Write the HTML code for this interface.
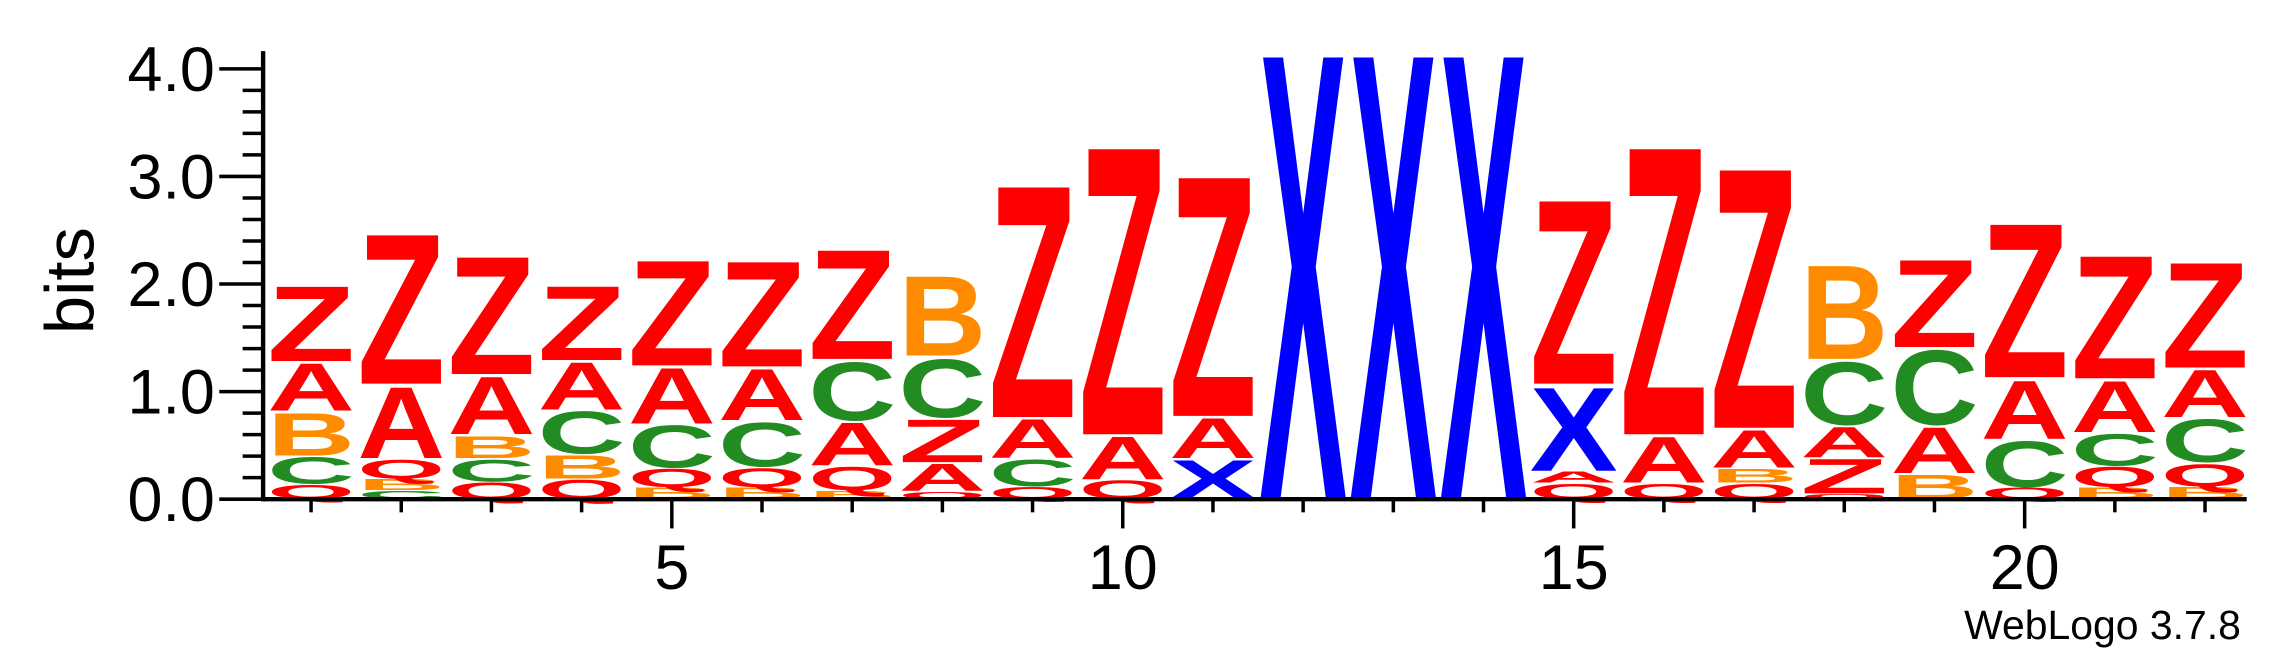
<!DOCTYPE html>
<html><head><meta charset="utf-8"><style>
html,body{margin:0;padding:0;background:#fff;}
svg{display:block;}
text{font-family:"Liberation Sans",Arial,sans-serif;}
</style></head><body>
<svg id="logo" width="2292" height="667" viewBox="0 0 1568 456.3" xmlns="http://www.w3.org/2000/svg">
<g id="marks"></g>
<g id="axes"></g>
<text x="0" y="0" font-size="47" transform="translate(64,192) rotate(-90)" text-anchor="middle">bits</text>
<text x="1533" y="437" font-size="28" text-anchor="end">WebLogo 3.7.8</text>
</svg>
<script>
const positions = [1,2,3,4,5,6,7,8,9,10,11,12,13,14,15,16,17,18,19,20,21,22];
const stackLetters = [
 ["Q","C","B","A","Z"],["C","B","Q","A","Z"],["Q","C","B","A","Z"],["Q","B","C","A","Z"],
 ["B","Q","C","A","Z"],["B","Q","C","A","Z"],["B","Q","A","C","Z"],["Q","A","Z","C","B"],
 ["Q","C","A","Z"],["Q","A","Z"],["X","A","Z"],["X"],["X"],["X"],
 ["Q","A","X","Z"],["Q","A","Z"],["Q","B","A","Z"],["Q","Z","A","C","B"],
 ["B","A","C","Z"],["Q","C","A","Z"],["B","Q","C","A","Z"],["B","Q","C","A","Z"]
];
const stackBits = [
 [0.14,0.26,0.42,0.46,0.73],[0.08,0.11,0.19,0.69,1.45],[0.16,0.22,0.22,0.56,1.14],[0.19,0.23,0.41,0.46,0.72],
 [0.11,0.18,0.41,0.54,1.02],[0.11,0.19,0.43,0.50,1.02],[0.08,0.23,0.42,0.57,1.06],[0.07,0.27,0.42,0.57,0.77],
 [0.12,0.26,0.38,2.24],[0.18,0.42,2.78],[0.38,0.39,2.32],[4.3],[4.3],[4.3],
 [0.15,0.11,0.81,1.78],[0.15,0.45,2.78],[0.15,0.14,0.37,2.51],[0.05,0.34,0.30,0.61,0.91],
 [0.24,0.45,0.72,0.85],[0.11,0.45,0.57,1.49],[0.11,0.20,0.31,0.50,1.19],[0.12,0.22,0.42,0.46,1.02]
];
const yTicks = [0,1,2,3,4];
const yTickLabels = ["0.0","1.0","2.0","3.0","4.0"];
const xTickLabels = [5,10,15,20];
const colors = {Z:"#ff0000",A:"#ff0000",Q:"#ff0000",B:"#ff8c00",C:"#228b22",X:"#0000ff"};

const NS="http://www.w3.org/2000/svg";
const base=341.5, bitPx=73.6, x0=212.8, dx=61.7;
const xs = p => x0+(p-1)*dx;
const ys = b => base-b*bitPx;
function mk(tag,attrs,parent){const e=document.createElementNS(NS,tag);for(const k in attrs)e.setAttribute(k,attrs[k]);parent.appendChild(e);return e;}

const marks=document.getElementById('marks');
positions.forEach((p,i)=>{
  let cum=0;
  const g=mk('g',{},marks);
  
  
  stackLetters[i].forEach((L,j)=>{
    const b=stackBits[i][j];
    const yb=ys(cum), h=ys(0)-ys(b);
    cum+=b;
    const t=mk('text',{x:0,y:0,'font-size':100,'font-weight':'bold',fill:colors[L],
      textLength:60,lengthAdjust:'spacingAndGlyphs',
      transform:`translate(${xs(p)-30},${yb-0.3}) scale(1,${(h-0.6)/72})`},g);
    
    
    t.textContent=L;
  });
});

const axes=document.getElementById('axes');
const yl=mk('line',{x1:180,y1:35,x2:180,y2:base+1.5,stroke:'#000','stroke-width':3},axes);


for(let k=0;k<=20;k++){
  const v=k*0.2, major=k%5===0;
  const t=mk('line',{x1:major?150:166,y1:ys(v),x2:180,y2:ys(v),stroke:'#000','stroke-width':2.4},axes);
  
  
}
yTicks.forEach((v,i)=>{
  const t=mk('text',{x:147,y:ys(v)+15,'font-size':43,'text-anchor':'end'},axes);
  
  
  t.textContent=yTickLabels[i];
});
const xl=mk('line',{x1:180,y1:base,x2:1537,y2:base,stroke:'#000','stroke-width':3},axes);


positions.forEach(p=>{
  const major=xTickLabels.includes(p);
  const t=mk('line',{x1:xs(p),y1:base,x2:xs(p),y2:base+(major?20:9),stroke:'#000','stroke-width':2.4},axes);
  
  
});
xTickLabels.forEach(p=>{
  const t=mk('text',{x:xs(p),y:403,'font-size':43,'text-anchor':'middle'},axes);
  
  
  t.textContent=p;
});
</script>
</body></html>
